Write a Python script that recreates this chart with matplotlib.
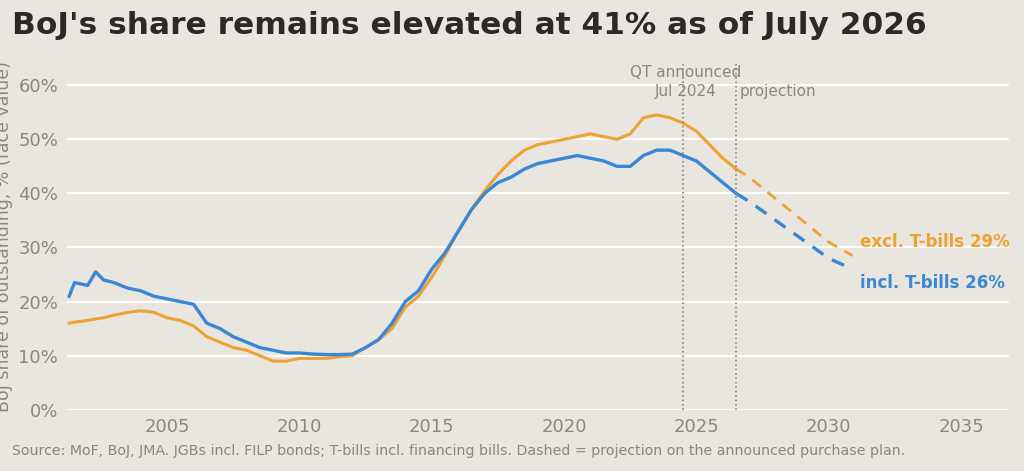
import matplotlib.pyplot as plt
from matplotlib.ticker import PercentFormatter

# BoJ share of outstanding JGBs, %
years = [2001.3, 2001.5, 2002.0, 2002.3, 2002.6, 2003.0, 2003.5, 2004.0, 2004.5, 2005.0,
         2005.5, 2006.0, 2006.5, 2007.0, 2007.5, 2008.0, 2008.5, 2009.0, 2009.5, 2010.0,
         2010.5, 2011.0, 2011.5, 2012.0, 2012.5, 2013.0, 2013.5, 2014.0, 2014.5, 2015.0,
         2015.5, 2016.0, 2016.5, 2017.0, 2017.5, 2018.0, 2018.5, 2019.0, 2019.5, 2020.0,
         2020.5, 2021.0, 2021.5, 2022.0, 2022.5, 2023.0, 2023.5, 2024.0, 2024.5, 2025.0,
         2025.5, 2026.0, 2026.5]
incl_tbills = [21, 23.5, 23, 25.5, 24, 23.5, 22.5, 22, 21, 20.5,
               20, 19.5, 16, 15, 13.5, 12.5, 11.5, 11, 10.5, 10.5,
               10.3, 10.2, 10.2, 10.3, 11.5, 13, 16, 20, 22, 26,
               29, 33, 37, 40, 42, 43, 44.5, 45.5, 46, 46.5,
               47, 46.5, 46, 45, 45, 47, 48, 48, 47, 46,
               44, 42, 40]
excl_tbills = [16, 16.2, 16.5, 16.8, 17, 17.5, 18, 18.3, 18, 17,
               16.5, 15.5, 13.5, 12.5, 11.5, 11, 10, 9, 9, 9.5,
               9.5, 9.5, 9.8, 10, 11.5, 13, 15, 19, 21, 24.5,
               28.5, 33, 37, 40.5, 43.5, 46, 48, 49, 49.5, 50,
               50.5, 51, 50.5, 50, 51, 54, 54.5, 54, 53, 51.5,
               49, 46.5, 44.5]

proj_years = [2026.5, 2027.0, 2028.0, 2029.0, 2030.0, 2030.9]
proj_incl = [40, 38.5, 35, 31.5, 28, 26]
proj_excl = [44.5, 43, 39, 35, 31, 28.5]

BG = "#e9e6df"
BLUE = "#3a87d6"
ORANGE = "#eda233"
GREY = "#8a8782"

fig, ax = plt.subplots(figsize=(10.24, 4.71), dpi=100)
fig.patch.set_facecolor(BG)
ax.set_facecolor(BG)
fig.subplots_adjust(left=0.065, right=0.985, top=0.865, bottom=0.13)

ax.plot(years, excl_tbills, color=ORANGE, lw=2.2)
ax.plot(years, incl_tbills, color=BLUE, lw=2.4)
ax.plot(proj_years, proj_excl, color=ORANGE, lw=2, ls=(0, (4, 3)))
ax.plot(proj_years, proj_incl, color=BLUE, lw=2.4, ls=(0, (4, 3)))

ax.axvline(2024.5, color=GREY, ls=":", lw=1.2)
ax.axvline(2026.5, color=GREY, ls=":", lw=1.2)
ax.text(2024.6, 57.5, "QT announced\nJul 2024", ha="center", va="bottom",
        color=GREY, fontsize=11, linespacing=1.3)
ax.text(2026.65, 57.5, "projection", ha="left", va="bottom", color=GREY, fontsize=11)

ax.text(2031.2, 31, "excl. T-bills 29%", color=ORANGE, fontsize=12,
        fontweight="bold", va="center")
ax.text(2031.2, 23.5, "incl. T-bills 26%", color=BLUE, fontsize=12,
        fontweight="bold", va="center")

ax.set_xlim(2001.2, 2036.8)
ax.set_ylim(0, 64)
ax.set_yticks(range(0, 61, 10))
ax.yaxis.set_major_formatter(PercentFormatter(decimals=0))
ax.set_xticks(range(2005, 2036, 5))
ax.grid(axis="y", color="white", lw=1.3)
ax.set_axisbelow(True)
for s in ax.spines.values():
    s.set_visible(False)
ax.tick_params(length=0, colors=GREY, labelsize=13, pad=6)
ax.set_ylabel("BoJ share of outstanding, % (face value)", color=GREY, fontsize=12.5,
              labelpad=4)

fig.text(0.012, 0.945, "BoJ's share remains elevated at 41% as of July 2026",
         fontsize=22.5, fontweight="bold", color="#2b2a28", va="center")
fig.text(0.012, 0.035, "Source: MoF, BoJ, JMA. JGBs incl. FILP bonds; T-bills incl. financing bills. "
         "Dashed = projection on the announced purchase plan.", fontsize=10.2, color=GREY)

fig.savefig("out.png", dpi=100, facecolor=BG)
